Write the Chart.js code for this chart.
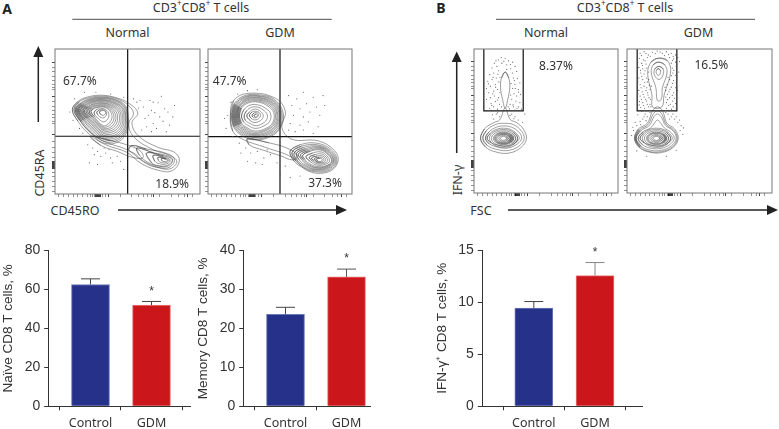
<!DOCTYPE html>
<html>
<head>
<meta charset="utf-8">
<script src="https://cdn.jsdelivr.net/npm/chart.js@4"></script>
<style>
  html, body { margin: 0; padding: 0; background: #fff; }
  body { width: 779px; height: 429px; position: relative; overflow: hidden; }
  canvas { position: absolute; }
  svg { position: absolute; left: 0; top: 0; }
  .t { position: absolute; font: 12.5px "Noto Sans", sans-serif; color: #333; white-space: nowrap; transform: translate(-50%, -50%); }
  .t sup { font-size: 8px; line-height: 0; }
  .v { transform: translate(-50%, -50%) rotate(-90deg); }
  .b { font: bold 14px "Noto Sans", sans-serif; color: #222; }
</style>
</head>
<body>
<svg width="779" height="429">
  <g stroke="#222" fill="#222">
    <line x1="72.3" y1="19.3" x2="331.7" y2="19.3" stroke-width="0.8"/>
    <line x1="496" y1="19.3" x2="755" y2="19.3" stroke-width="0.8"/>
    <line x1="38.3" y1="122" x2="38.3" y2="55" stroke-width="1.5"/>
    <polygon points="38.3,46 33.3,57 43.3,57" stroke="none"/>
    <line x1="118" y1="210" x2="338" y2="210" stroke-width="1.5"/>
    <polygon points="347,210 336,205 336,215" stroke="none"/>
    <line x1="456.7" y1="153" x2="456.7" y2="60" stroke-width="1.5"/>
    <polygon points="456.7,51.5 451.7,62 461.7,62" stroke="none"/>
    <line x1="508" y1="210" x2="769" y2="210" stroke-width="1.5"/>
    <polygon points="778,210 767,205 767,215" stroke="none"/>
  </g>
</svg>
<div class="t b" style="left:7px;top:8px">A</div>
<div class="t b" style="left:441px;top:7px">B</div>
<div class="t" style="left:201px;top:6.5px">CD3<sup>+</sup>CD8<sup>+</sup> T cells</div>
<div class="t" style="left:625px;top:6.5px">CD3<sup>+</sup>CD8<sup>+</sup> T cells</div>
<div class="t" style="left:127.5px;top:32px">Normal</div>
<div class="t" style="left:280px;top:32px">GDM</div>
<div class="t" style="left:546px;top:32px">Normal</div>
<div class="t" style="left:698.5px;top:32px">GDM</div>
<div class="t v" style="left:39px;top:173px">CD45RA</div>
<div class="t" style="left:75px;top:210px">CD45RO</div>
<div class="t v" style="left:457px;top:180px">IFN-γ</div>
<div class="t" style="left:481px;top:210px">FSC</div>
<script>
// --- bar data ---
const categories = ['Control', 'GDM'];
const naiveValues = [62.5, 51.9];
const naiveErrTop = [65.4, 53.8];
const memoryValues = [23.6, 33.2];
const memoryErrTop = [25.4, 35.2];
const ifnValues = [9.45, 12.57];
const ifnErrTop = [10.08, 13.83];
const naiveTicks = [0, 20, 40, 60, 80];
const memoryTicks = [0, 10, 20, 30, 40];
const ifnTicks = [0, 5, 10, 15];

// --- flow plot ticks (channel units) ---
const flowTicksY = [400, 385, 372, 358, 345, 335, 325, 318, 298, 282, 268, 255, 242, 232, 222, 215, 182, 160, 142, 127, 112, 100, 97, 94, 91, 88, 85, 82, 79, 67, 52, 37, 22, 7];
const flowMajorY = [400, 298, 182, 100, 97, 94, 91, 88, 85, 82, 79];
const flowTicksX = [10, 25, 40, 55, 70, 85, 100, 108, 115, 122, 125, 128, 131, 134, 137, 140, 145, 155, 163, 200, 235, 255, 270, 283, 295, 300, 320, 355, 378, 395, 405, 420];
const flowMajorX = [125, 128, 131, 134, 137, 140, 163, 300, 405];

// --- percentages ---
const aNormalPct = ['67.7%', '18.9%'];
const aGdmPct = ['47.7%', '37.3%'];
const bNormalPct = ['8.37%'];
const bGdmPct = ['16.5%'];

// --- contours, flat x,y lists in channel units ---
const aNormalContours = [
  [53,257, 70,282, 105,297, 145,301, 185,294, 225,277, 253,247, 235,217, 255,177, 315,142, 365,127, 380,102, 360,72, 325,70, 265,92, 220,127, 155,150, 105,182, 70,222],
  [58,257, 74,281, 106,294, 145,298, 187,291, 222,272, 240,245, 225,215, 240,175, 300,135, 350,118, 372,100, 355,78, 325,78, 270,100, 220,135, 155,158, 108,188, 75,225],
  [62,257, 78,277, 108,291, 145,295, 185,288, 216,268, 224,235, 222,195, 195,160, 150,155, 110,185, 80,220],
  [65,257, 81,276, 110,289, 145,293, 184,286, 214,266, 222,233, 219,196, 192,164, 151,160, 112,188, 83,222],
  [68,256, 84,274, 112,287, 145,291, 182,284, 212,264, 220,232, 216,196, 190,168, 152,165, 115,192, 86,225],
  [71,256, 87,273, 114,285, 146,288, 180,281, 209,262, 217,231, 213,198, 187,172, 152,170, 118,195, 89,226],
  [74,255, 90,271, 116,283, 146,286, 178,279, 207,260, 215,230, 210,200, 185,176, 152,174, 120,198, 92,228],
  [78,255, 93,270, 118,281, 146,284, 176,277, 204,258, 211,230, 206,203, 183,180, 152,178, 122,201, 95,230],
  [82,254, 96,268, 120,279, 147,281, 174,274, 200,256, 207,230, 202,205, 180,185, 152,183, 124,204, 98,231],
  [86,254, 99,266, 122,276, 147,278, 172,271, 196,254, 202,230, 197,207, 177,190, 151,187, 126,206, 101,232],
  [90,253, 102,265, 124,274, 148,276, 170,269, 192,252, 197,230, 192,210, 174,194, 151,192, 128,209, 104,233],
  [95,252, 106,264, 126,271, 148,273, 168,266, 187,250, 191,230, 186,212, 170,198, 150,196, 130,211, 108,234],
  [100,252, 110,263, 128,269, 148,270, 166,264, 182,248, 186,230, 180,214, 167,202, 150,200, 132,213, 112,235],
  [105,251, 114,261, 130,266, 148,267, 164,261, 177,247, 180,231, 174,216, 162,206, 149,204, 133,216, 116,235],
  [110,251, 118,260, 132,264, 148,265, 162,259, 172,246, 174,232, 168,219, 158,210, 148,208, 134,218, 120,236],
  [120,250, 128,258, 138,260, 149,260, 158,255, 164,246, 164,234, 158,225, 150,220, 142,222, 130,232, 122,240],
  [128,250, 136,256, 148,257, 156,252, 158,244, 154,236, 146,232, 136,236, 130,242],
  [136,250, 142,254, 150,254, 155,250, 154,244, 148,240, 140,242],
  [235,148, 280,137, 340,124, 365,105, 350,82, 320,80, 280,92, 245,122, 225,135],
  [250,140, 300,126, 345,116, 360,104, 347,86, 320,84, 285,96, 258,118],
  [280,125, 330,117, 358,105, 345,88, 320,86, 295,95],
  [300,118, 335,112, 352,104, 342,92, 320,92, 305,100],
  [315,112, 338,108, 348,103, 340,96, 325,96, 316,102],
  [325,108, 340,106, 344,102, 337,99, 328,100],
  [110,175, 170,163, 225,148, 262,130, 268,110, 235,112, 190,130, 140,148]
];
const aGdmContours = [
  [68,237, 78,285, 125,307, 205,292, 235,252, 225,202, 255,167, 335,162, 385,132, 395,97, 365,67, 305,70, 255,112, 175,142, 105,167, 75,192],
  [72,238, 80,275, 112,300, 160,302, 202,288, 228,250, 222,205, 190,175, 140,165, 100,180, 78,205],
  [75,238, 83,273, 113,297, 159,299, 200,285, 224,250, 219,206, 189,178, 140,168, 102,183, 81,206],
  [78,238, 86,272, 115,295, 158,297, 198,283, 221,250, 216,208, 188,182, 140,172, 104,186, 84,208],
  [81,238, 89,270, 116,292, 157,294, 196,280, 218,250, 213,210, 186,185, 140,175, 106,189, 87,209],
  [84,238, 92,268, 118,290, 156,292, 194,278, 215,250, 210,212, 184,188, 140,178, 108,192, 90,210],
  [87,238, 94,266, 119,287, 155,289, 191,276, 211,250, 207,213, 182,191, 140,181, 110,195, 93,211],
  [90,238, 96,265, 120,284, 155,286, 188,274, 208,250, 204,215, 180,195, 140,184, 112,198, 96,212],
  [93,238, 99,263, 122,281, 154,283, 185,271, 204,249, 200,216, 178,197, 141,188, 114,201, 99,214],
  [96,238, 102,262, 124,278, 153,280, 182,268, 200,248, 197,218, 176,200, 142,192, 116,204, 102,216],
  [102,238, 110,258, 128,271, 150,272, 174,262, 190,246, 188,222, 170,208, 144,200, 120,210, 108,220],
  [110,238, 118,254, 132,264, 150,265, 168,256, 180,242, 178,226, 164,214, 146,208, 126,216, 114,224],
  [118,238, 126,250, 138,258, 150,258, 162,250, 168,240, 164,228, 152,220, 140,218, 128,224],
  [126,240, 134,250, 146,252, 156,248, 160,240, 154,230, 144,226, 132,230],
  [134,240, 140,247, 148,248, 154,243, 150,235, 142,232, 136,235],
  [140,240, 146,244, 151,240, 147,235, 142,236],
  [250,130, 280,150, 330,155, 375,135, 392,100, 368,72, 325,68, 290,80, 262,100],
  [256,128, 285,146, 332,150, 372,132, 389,100, 366,75, 325,71, 292,82, 267,101],
  [262,125, 290,142, 335,146, 370,130, 386,100, 364,78, 325,74, 295,85, 272,102],
  [269,124, 295,138, 337,143, 369,127, 383,100, 362,80, 326,76, 298,87, 278,103],
  [275,122, 300,135, 340,140, 368,124, 381,100, 360,82, 328,79, 300,90, 285,105],
  [282,120, 305,132, 341,137, 366,122, 378,100, 359,84, 329,81, 303,92, 290,105],
  [288,118, 310,130, 342,134, 365,120, 376,100, 358,86, 330,84, 306,94, 294,106],
  [298,114, 318,125, 345,128, 362,116, 370,100, 355,90, 332,88, 312,98],
  [308,112, 325,120, 346,122, 359,113, 364,101, 352,93, 333,92, 318,100],
  [315,110, 332,116, 348,116, 357,108, 356,99, 346,95, 332,96, 322,102],
  [324,108, 338,112, 350,110, 352,102, 344,97, 332,98],
  [330,106, 342,109, 348,104, 342,99, 334,100],
  [120,168, 185,156, 240,140, 272,118, 258,104, 222,116, 170,133, 125,150]
];
const bNormalContours = [
  [95,368, 106,350, 109,320, 103,285, 95,258, 87,285, 81,320, 84,350],
  [20,166, 32,195, 60,214, 78,222, 95,258, 110,224, 130,214, 150,195, 160,166, 145,140, 110,122, 70,124, 35,140],
  [27,166, 38,190, 65,208, 90,212, 120,208, 145,188, 153,166, 140,145, 108,130, 72,132, 40,145],
  [35,166, 45,185, 68,200, 90,204, 115,200, 138,184, 145,166, 133,150, 105,137, 75,139, 46,150],
  [40,166, 50,182, 70,194, 90,197, 112,193, 130,180, 138,166, 126,153, 104,143, 76,145, 52,153],
  [133,166, 120,185, 90,193, 60,185, 47,166, 60,147, 90,139, 120,147],
  [127,166, 116,182, 90,189, 64,182, 53,166, 64,150, 90,143, 116,150],
  [121,166, 112,179, 90,185, 68,179, 59,166, 68,153, 90,147, 112,153],
  [118,166, 110,178, 90,183, 70,178, 62,166, 70,154, 90,149, 110,154],
  [115,166, 108,177, 90,181, 72,177, 65,166, 72,155, 90,151, 108,155],
  [112,166, 106,175, 90,179, 74,175, 67,166, 74,156, 90,152, 106,156],
  [110,166, 104,174, 90,178, 76,174, 70,166, 76,158, 90,154, 104,158],
  [105,166, 100,172, 90,175, 80,172, 75,166, 80,160, 90,157, 100,160],
  [100,166, 97,170, 90,172, 83,170, 80,166, 83,162, 90,160, 97,162]
];
const bGdmContours = [
  [96,410, 123,403, 133,368, 113,298, 106,262, 78,262, 76,298, 63,363, 73,398],
  [96,398, 115,390, 122,365, 108,320, 106,290, 100,280, 92,282, 88,320, 74,365, 80,390],
  [96,385, 110,378, 110,360, 98,345, 84,358, 84,376],
  [96,378, 102,372, 101,362, 95,358, 89,365, 90,374],
  [23,166, 35,195, 62,212, 78,250, 93,262, 108,250, 122,212, 145,195, 156,166, 140,138, 105,123, 70,124, 38,138],
  [26,166, 38,192, 64,208, 80,240, 93,250, 106,240, 120,208, 142,192, 153,166, 138,140, 105,126, 70,126, 40,140],
  [28,166, 42,190, 68,205, 82,232, 93,240, 104,232, 118,205, 140,190, 150,166, 135,143, 105,130, 72,130, 42,143],
  [34,166, 48,186, 72,198, 86,216, 93,222, 100,216, 114,198, 134,184, 144,166, 130,147, 104,136, 74,136, 47,147],
  [40,166, 50,182, 70,194, 90,197, 112,193, 130,180, 138,166, 126,153, 104,143, 76,145, 52,153],
  [133,166, 120,185, 90,193, 60,185, 47,166, 60,147, 90,139, 120,147],
  [127,166, 116,182, 90,189, 64,182, 53,166, 64,150, 90,143, 116,150],
  [121,166, 112,179, 90,185, 68,179, 59,166, 68,153, 90,147, 112,153],
  [118,166, 110,178, 90,183, 70,178, 62,166, 70,154, 90,149, 110,154],
  [115,166, 108,177, 90,181, 72,177, 65,166, 72,155, 90,151, 108,155],
  [110,166, 104,174, 90,178, 76,174, 70,166, 76,158, 90,154, 104,158],
  [105,166, 100,172, 90,175, 80,172, 75,166, 80,160, 90,157, 100,160],
  [100,166, 97,170, 90,172, 83,170, 80,166, 83,162, 90,160, 97,162]
];

// --- single events ---
const aNormalDots = [240,290, 260,285, 300,280, 325,298, 315,278, 270,265, 295,255, 285,240, 305,248, 320,235, 345,250, 360,235, 330,222, 300,215, 275,230, 350,210, 310,200, 280,205, 265,195, 295,190, 340,190, 250,280, 255,262, 365,270, 290,285, 335,260, 100,150, 115,140, 130,130, 140,115, 155,125, 170,110, 120,120, 150,140, 105,95, 130,90, 165,135, 190,115, 175,95, 200,100, 210,75, 75,200, 85,185, 55,225, 45,250, 60,290, 90,310, 125,310, 170,305, 210,295];
const aGdmDots = [245,300, 270,290, 290,310, 320,295, 350,300, 255,270, 280,260, 300,275, 330,265, 355,270, 260,240, 290,235, 310,250, 340,240, 250,215, 280,210, 305,220, 335,205, 265,190, 290,195, 320,185, 245,195, 60,240, 50,230, 70,280, 90,305, 120,315, 150,318, 55,200, 75,175, 95,155, 115,140, 130,125, 150,130, 170,110, 190,120, 120,100, 145,95, 165,90, 210,95, 235,85, 220,60, 250,50, 280,55, 100,125, 180,135];
const bNormalDots = [62,395, 75,405, 95,410, 105,402, 118,398, 85,395, 55,380, 70,385, 100,390, 125,385, 112,378, 60,365, 48,360, 75,372, 118,365, 130,370, 55,345, 42,340, 68,350, 120,350, 132,348, 140,335, 50,325, 38,318, 65,330, 125,330, 118,318, 135,315, 45,305, 60,310, 72,315, 122,302, 130,295, 142,300, 50,290, 38,285, 62,295, 75,290, 115,285, 128,280, 140,275, 52,272, 65,278, 78,270, 110,270, 120,262, 135,262, 48,258, 60,262, 72,255, 108,256, 125,252, 145,255, 68,240, 78,232, 60,225, 115,240, 125,232, 135,222, 148,215, 155,240,
  67,402, 83,412, 111,391, 73,361, 58,352, 76,338, 123,342, 113,333, 66,322, 79,305, 112,298, 126,318, 57,302, 44,332, 136,307, 71,283, 119,268, 131,257, 54,266, 84,262, 104,262, 72,244, 110,236, 122,226, 56,238, 91,401, 100,376, 79,352];
const bGdmDots = [40,425, 52,430, 65,420, 78,428, 92,432, 108,425, 120,430, 135,425, 148,420, 38,410, 50,405, 62,412, 130,412, 142,408, 155,412, 45,395, 58,392, 135,395, 148,398, 160,400, 36,382, 48,378, 60,380, 138,380, 150,385, 42,365, 52,362, 60,350, 140,365, 148,358, 158,368, 36,350, 48,345, 62,338, 130,345, 142,342, 150,335, 40,330, 52,325, 68,328, 122,330, 135,322, 148,320, 36,312, 46,308, 58,312, 70,315, 118,312, 128,308, 142,305, 40,295, 52,292, 64,298, 72,285, 118,292, 130,290, 145,288, 38,278, 48,275, 60,280, 70,270, 120,275, 132,270, 148,272, 42,260, 54,258, 66,262, 120,258, 136,255, 150,258, 55,240, 62,232, 48,225, 40,218, 30,205, 125,240, 135,232, 145,225, 155,215, 165,205, 70,245, 118,245, 20,190, 162,190, 170,178, 14,175, 150,130, 30,128, 60,112, 120,112,
  44,418, 58,424, 71,416, 86,424, 101,429, 114,418, 127,421, 141,416, 33,397, 47,388, 55,402, 139,403, 152,392, 41,373, 55,372, 66,368, 143,373, 135,357, 45,355, 54,336, 66,345, 125,352, 139,334, 33,338, 43,320, 60,320, 74,325, 116,322, 131,315, 154,312, 33,302, 49,300, 63,305, 123,300, 138,297, 150,300, 44,285, 57,285, 67,290, 124,284, 139,280, 37,268, 50,266, 62,270, 73,262, 127,266, 141,262, 45,248, 59,250, 33,238, 52,232, 42,208, 25,215, 128,250, 140,240, 150,232, 160,222, 58,220, 130,225, 172,198, 18,200];

// --- flow panels ---
function pairs(flat) {
  const pts = [];
  for (let i = 0; i < flat.length; i += 2) pts.push({x: flat[i], y: flat[i + 1]});
  return pts;
}

const panelExtras = {
  id: 'panelExtras',
  afterDatasetsDraw(chart, args, opts) {
    const c = chart.ctx, a = chart.chartArea;
    c.save();
    c.strokeStyle = opts.frame;
    c.lineWidth = 1;
    c.strokeRect(a.left, a.top, a.width, a.height);
    c.fillStyle = '#333';
    c.font = '12px "Noto Sans"';
    c.textAlign = 'center';
    c.textBaseline = 'middle';
    opts.labels.forEach(l => {
      c.fillText(l.text, chart.scales.x.getPixelForValue(l.x), chart.scales.y.getPixelForValue(l.y));
    });
    c.restore();
  }
};

function flowPanel(box, contours, dots, lines, labels) {
  const m = {left: 8, right: 2, top: 2, bottom: 8};
  const cv = document.createElement('canvas');
  cv.width = box.w + m.left + m.right;
  cv.height = box.h + m.top + m.bottom;
  cv.style.left = (box.x - m.left) + 'px';
  cv.style.top = (box.y - m.top) + 'px';
  document.body.appendChild(cv);
  const datasets = [];
  contours.forEach(flat => {
    const pts = pairs(flat);
    // wrap round so the closing segment is smooth as well
    const ring = [pts[pts.length - 1], ...pts, pts[0], pts[1]];
    datasets.push({data: ring, showLine: true, borderColor: 'rgba(60,60,60,0.7)', borderWidth: 0.7, pointRadius: 0, tension: 0.4});
  });
  datasets.push({data: pairs(dots), showLine: false, pointRadius: 0.55, pointBorderWidth: 0, backgroundColor: '#555'});
  lines.forEach(flat => {
    datasets.push({data: pairs(flat), showLine: true, borderColor: '#111', borderWidth: 1.2, pointRadius: 0, tension: 0});
  });
  new Chart(cv, {
    type: 'scatter',
    data: {datasets},
    options: {
      responsive: false,
      animation: false,
      layout: {padding: {top: m.top, right: m.right}},
      plugins: {legend: {display: false}, tooltip: {enabled: false}, panelExtras: {labels, frame: '#777'}},
      scales: {
        x: {
          type: 'linear', min: 0, max: box.rangeX,
          afterBuildTicks: s => { s.ticks = flowTicksX.map(v => ({value: v})); },
          afterFit: s => { s.height = m.bottom; },
          border: {display: false},
          grid: {drawOnChartArea: false, tickLength: 3, tickWidth: 0.8, tickColor: ctx => flowMajorX.includes(ctx.tick && ctx.tick.value) ? '#111' : '#777'},
          ticks: {display: false}
        },
        y: {
          type: 'linear', min: 0, max: box.rangeY,
          afterBuildTicks: s => { s.ticks = flowTicksY.map(v => ({value: v})); },
          afterFit: s => { s.width = m.left; },
          border: {display: false},
          grid: {drawOnChartArea: false, tickLength: 3, tickWidth: 0.8, tickColor: ctx => flowMajorY.includes(ctx.tick && ctx.tick.value) ? '#111' : '#777'},
          ticks: {display: false}
        }
      }
    },
    plugins: [panelExtras]
  });
}

flowPanel({x: 55, y: 46.7, w: 147.7, h: 147.3, rangeX: 443, rangeY: 442}, aNormalContours, aNormalDots,
  [[222,0, 222,442], [0,176, 443,176]],
  [{text: aNormalPct[0], x: 76, y: 342}, {text: aNormalPct[1], x: 358, y: 30}]);
flowPanel({x: 208.3, y: 46.7, w: 146, h: 147.3, rangeX: 438, rangeY: 442}, aGdmContours, aGdmDots,
  [[219,0, 219,442], [0,175, 438,175]],
  [{text: aGdmPct[0], x: 66, y: 342}, {text: aGdmPct[1], x: 356, y: 32}]);
flowPanel({x: 474.3, y: 46.7, w: 146.4, h: 146, rangeX: 439, rangeY: 438}, bNormalContours, bNormalDots,
  [[30,438, 30,250, 150,250, 150,438]],
  [{text: bNormalPct[0], x: 250, y: 385}]);
flowPanel({x: 627.3, y: 46.7, w: 147.4, h: 146, rangeX: 442, rangeY: 438}, bGdmContours, bGdmDots,
  [[31,438, 31,250, 152,250, 152,438]],
  [{text: bGdmPct[0], x: 257, y: 388}]);

// --- bar panels ---
const barExtras = {
  id: 'barExtras',
  afterDatasetsDraw(chart, args, opts) {
    const c = chart.ctx, sx = chart.scales.x, sy = chart.scales.y;
    c.save();
    opts.values.forEach((v, i) => {
      const px = sx.getPixelForValue(i + 1);
      const top = sy.getPixelForValue(opts.errTop[i]);
      c.strokeStyle = opts.errColors[i];
      c.lineWidth = 1;
      c.beginPath();
      c.moveTo(px, sy.getPixelForValue(v));
      c.lineTo(px, top);
      c.moveTo(px - 9.5, top);
      c.lineTo(px + 9.5, top);
      c.stroke();
      if (i === 1) {
        c.fillStyle = '#333';
        c.font = '12px "Liberation Sans"';
        c.textAlign = 'center';
        c.textBaseline = 'middle';
        c.fillText('*', px, top - 10);
      }
    });
    c.restore();
  }
};

function barPanel(box, title, values, errTop, ticks, errColors) {
  const cv = document.createElement('canvas');
  cv.width = box.w;
  cv.height = 429 - box.top;
  cv.style.left = box.left + 'px';
  cv.style.top = box.top + 'px';
  document.body.appendChild(cv);
  new Chart(cv, {
    type: 'bar',
    data: {
      datasets: [{
        data: values.map((v, i) => ({x: i + 1, y: v})),
        backgroundColor: ['#26328a', '#cb171c'],
        borderColor: ['#6b78b6', '#e67c7c'],
        borderWidth: 1,
        barThickness: 38
      }]
    },
    options: {
      responsive: false,
      animation: false,
      layout: {padding: {top: 247.7 - box.top, right: box.w + box.left - box.axisEnd}},
      plugins: {legend: {display: false}, tooltip: {enabled: false}, barExtras: {values, errTop, errColors}},
      scales: {
        x: {
          type: 'linear', offset: false, min: box.minX, max: box.maxX,
          afterBuildTicks: s => { s.ticks = categories.map((c, i) => ({value: i + 1})); },
          afterFit: s => { s.height = 429 - 406.3; },
          border: {color: '#333', width: 1},
          grid: {drawOnChartArea: false, tickLength: 4, tickColor: '#333'},
          ticks: {
            callback: v => categories[v - 1],
            color: '#333', font: {family: 'Noto Sans', size: 12.5}, padding: 6, maxRotation: 0
          }
        },
        y: {
          min: ticks[0], max: ticks[ticks.length - 1],
          afterBuildTicks: s => { s.ticks = ticks.map(v => ({value: v})); },
          afterFit: s => { s.width = box.axisX - box.left; },
          border: {color: '#333', width: 1},
          grid: {drawOnChartArea: false, tickLength: 4.5, tickColor: '#333'},
          ticks: {color: '#333', font: {family: 'Liberation Sans', size: 14}, padding: 4},
          title: {display: true, text: title, color: '#333', font: {family: 'Liberation Sans', size: 13.5}, padding: 0}
        }
      }
    },
    plugins: [barExtras]
  });
}

barPanel({left: 0, top: 238, w: 195, axisX: 48.7, axisEnd: 190, minX: 0.315, maxX: 2.631},
  'Naïve CD8 T cells, %', naiveValues, naiveErrTop, naiveTicks, ['#444', '#444']);
barPanel({left: 195, top: 238, w: 180, axisX: 243.7, axisEnd: 370, minX: 0.315, maxX: 2.385},
  'Memory CD8 T cells, %', memoryValues, memoryErrTop, memoryTicks, ['#444', '#555']);
barPanel({left: 434, top: 238, w: 212, axisX: 482.3, axisEnd: 642.3, minX: 0.158, maxX: 2.773},
  'IFN-γ⁺ CD8 T cells, %', ifnValues, ifnErrTop, ifnTicks, ['#444', '#888']);
</script>
</body>
</html>
